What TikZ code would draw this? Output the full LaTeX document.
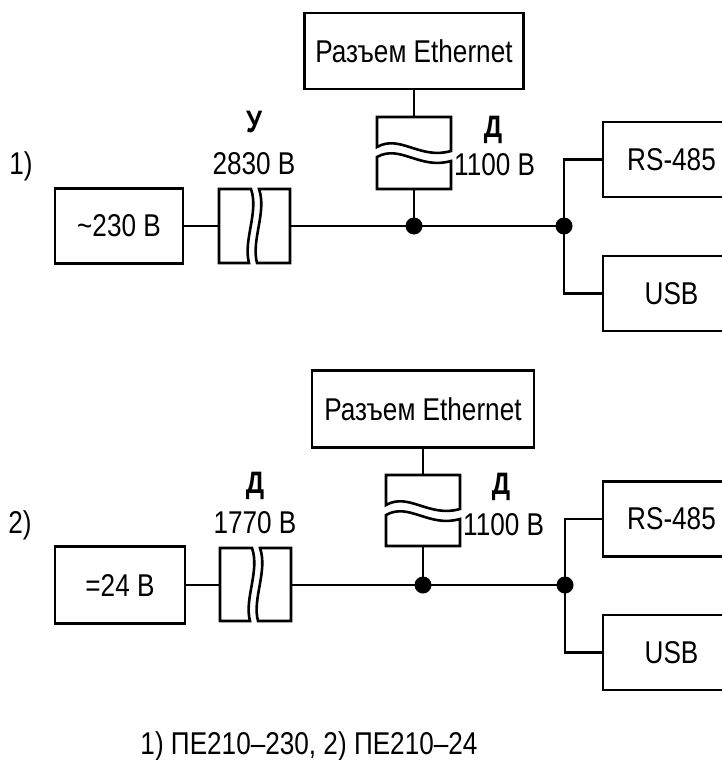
\documentclass[tikz,border=0pt]{standalone}
\usepackage{fontspec}
\setmainfont{Liberation Sans}[FakeStretch=0.83]
\usetikzlibrary{calc}
\tikzset{
    box/.style={draw, line width=2.6pt, minimum width=130, minimum height=75, inner sep=0pt},
    wire/.style={line width=2.6pt},
    dot/.style={circle, fill, inner sep=0pt, minimum size=17},
    lbl/.style={inner sep=0pt},
    hdr/.style={inner sep=0pt, font=\fontsize{31}{36}\selectfont\bfseries},
}

\begin{document}
\begin{tikzpicture}[x=1pt, y=-1pt, font=\fontsize{31.5}{36}\selectfont]
        \useasboundingbox (0,0) rectangle (722,760);

        % 1) ~230 V
        \node[box, minimum width=219, minimum height=76] (eth1) at (414,51) {Разъем Ethernet};
        \node[box, minimum width=128] (src1) at (119,226) {\textasciitilde230 В};
        \node[box, minimum width=137] (rs1) at (671.5,159.5) {RS-485};
        \node[box, minimum width=137] (usb1) at (671.5,293.5) {USB};
        \node[dot] (ja1) at (414,226) {};
        \node[dot] (jb1) at (564,226) {};
        \coordinate (hw1) at (219,226);
        \coordinate (he1) at (290,226);
        \coordinate (vn1) at (414,117);
        \coordinate (vs1) at (414,189);

        \draw[wire] (219,189) -- (219,263) -- (249,263) .. controls (243,240) and (259,212) .. (251,189) -- cycle;
        \draw[wire] (290,189) -- (290,263) -- (257,263) .. controls (251,240) and (267,212) .. (259,189) -- cycle;
        \draw[wire] (377,117) -- (451,117) -- (451,151) .. controls (420,160) and (400,134) .. (377,147) -- cycle;
        \draw[wire] (377,189) -- (451,189) -- (451,161) .. controls (420,170) and (400,144) .. (377,157) -- cycle;

        \draw[wire] (src1) -- (hw1);
        \draw[wire] (he1) -- (ja1.center) -- (jb1.center);
        \draw[wire] (eth1) -- (vn1);
        \draw[wire] (vs1) -- (ja1.center);
        \draw[wire] (rs1.west) -| (jb1.center) |- (usb1.west);

        \node[lbl] (num1) at (21,166) {1)};
        \node[hdr] (kind1) at (254,122) {У};
        \node[lbl] (volt1) at (254,164) {2830 В};
        \node[hdr] (kind2) at (493,130) {Д};
        \node[lbl, anchor=west] (volt2) at (454,165) {1100 В};

        % 2) =24 V
        \begin{scope}[shift={(0,359)}]
        \node[box, minimum width=222, minimum height=77] (eth2) at (423,50) {Разъем Ethernet};
        \node[box, minimum width=130, minimum height=77] (src2) at (120,226) {=24 В};
        \node[box, minimum width=137] (rs2) at (671.5,160) {RS-485};
        \node[box, minimum width=137] (usb2) at (671.5,293.5) {USB};
        \node[dot] (ja2) at (423,226) {};
        \node[dot] (jb2) at (565,226) {};
        \coordinate (hw2) at (220,226);
        \coordinate (he2) at (291,226);
        \coordinate (vn2) at (423,116);
        \coordinate (vs2) at (423,187);

        \draw[wire] (220,189) -- (220,262) -- (250,262) .. controls (244,240) and (260,212) .. (252,189) -- cycle;
        \draw[wire] (291,189) -- (291,262) -- (258,262) .. controls (252,240) and (268,212) .. (260,189) -- cycle;
        \draw[wire] (386,116) -- (460,116) -- (460,150) .. controls (429,159) and (409,133) .. (386,146) -- cycle;
        \draw[wire] (386,187) -- (460,187) -- (460,160) .. controls (429,169) and (409,143) .. (386,156) -- cycle;

        \draw[wire] (src2) -- (hw2);
        \draw[wire] (he2) -- (ja2.center) -- (jb2.center);
        \draw[wire] (eth2) -- (vn2);
        \draw[wire] (vs2) -- (ja2.center);
        \draw[wire] (rs2.west) -| (jb2.center) |- (usb2.west);

        \node[lbl] (num2) at (20,166) {2)};
        \node[hdr] (kind3) at (255,127) {Д};
        \node[lbl] (volt3) at (255,164) {1770 В};
        \node[hdr] (kind4) at (501,128) {Д};
        \node[lbl, anchor=west] (volt4) at (463,166) {1100 В};
        \end{scope}

        \node[lbl] (note) at (309,746) {1) ПЕ210–230, 2) ПЕ210–24};
\end{tikzpicture}
\end{document}
